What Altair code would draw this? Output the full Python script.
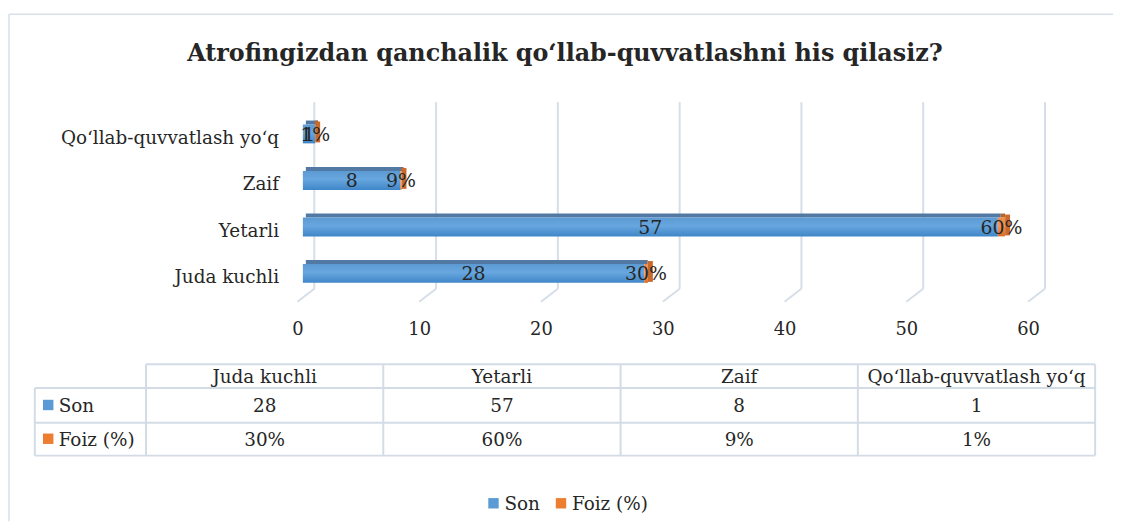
import altair as alt
import pandas as pd

# ---------------- data ----------------
categories = ["Juda kuchli", "Yetarli", "Zaif", "Qo‘llab-quvvatlash yo‘q"]
son = [28, 57, 8, 1]
foiz = [0.30, 0.60, 0.09, 0.01]
series = ["Son", "Foiz (%)"]
x_ticks = [0, 10, 20, 30, 40, 50, 60]
title_text = "Atrofingizdan qanchalik qo‘llab-quvvatlashni his qilasiz?"

# ---------------- style ----------------
FONT = "DejaVu Serif"
TXT = "#262626"
BLUE = "#5b9bd5"
ORANGE = "#ed7d31"
BLUE_TOP = "#5279a3"
ORANGE_TOP = "#b9622a"
GRID = "#d6dee8"
TBL = "#d3dce6"
FS = 18.5

W, H = 1113, 515


def X(px):
    return px - 8


def Y(py):
    return py - 8


df = pd.DataFrame({"cat": categories, "son": son, "foiz": foiz})
ticks_df = pd.DataFrame({"t": x_ticks})

order_top_down = categories[::-1]
y_bar = alt.Scale(type="point", domain=order_top_down, range=[Y(133), Y(273.5)], padding=0)
x_front = alt.Scale(domain=[0, 60], range=[X(305), X(1041.8)], nice=False)
x_back = alt.Scale(domain=[0, 60], range=[X(316.5), X(1052.5)], nice=False)
x_lab = alt.Scale(domain=[0, 60], range=[X(300), X(1036)], nice=False)
col_scale = alt.Scale(type="band", domain=categories, range=[X(147), X(1103)], paddingInner=0, paddingOuter=0)
row_scale = alt.Scale(type="band", domain=series, range=[Y(389), Y(457)], paddingInner=0, paddingOuter=0)
ser_color = alt.Scale(domain=series, range=[BLUE, ORANGE])

blue_grad = alt.LinearGradient(
    gradient="linear", x1=0, x2=0, y1=0, y2=1,
    stops=[alt.GradientStop(color="#5c9ad3", offset=0),
           alt.GradientStop(color="#67a6de", offset=0.45),
           alt.GradientStop(color="#3f86c8", offset=1)])
orange_grad = alt.LinearGradient(
    gradient="linear", x1=0, x2=0, y1=0, y2=1,
    stops=[alt.GradientStop(color="#ee8a45", offset=0),
           alt.GradientStop(color="#f39456", offset=0.45),
           alt.GradientStop(color="#d86c25", offset=1)])

base = alt.Chart(df).transform_calculate(
    total="datum.son + datum.foiz",
    son_mid="datum.son / 2",
    foiz_mid="datum.son + datum.foiz / 2",
)

# frame (left + top border of chart area)
frame_left = alt.Chart(ticks_df.head(1)).mark_rule(color="#d9dfe7", strokeWidth=1.5).encode(
    x=alt.value(X(9)), y=alt.value(Y(12.5)), y2=alt.value(H))
frame_top = alt.Chart(ticks_df.head(1)).mark_rule(color="#d9dfe7", strokeWidth=1.5).encode(
    x=alt.value(X(9)), x2=alt.value(W), y=alt.value(Y(12.5)))

title = alt.Chart(ticks_df.head(1)).mark_text(
    font=FONT, fontSize=24, fontWeight="bold", color=TXT, align="center", baseline="alphabetic"
).encode(x=alt.value(X(569)), y=alt.value(Y(60)), text=alt.value(title_text))

grid_v = alt.Chart(ticks_df).mark_rule(color=GRID, strokeWidth=2).encode(
    x=alt.X("t:Q", scale=x_back, axis=None), y=alt.value(Y(101)), y2=alt.value(Y(289)))
grid_f = alt.Chart(ticks_df).mark_rule(color=GRID, strokeWidth=2, x2Offset=-17).encode(
    x=alt.X("t:Q", scale=x_back, axis=None), x2="t:Q", y=alt.value(Y(289)), y2=alt.value(Y(302)))

yenc = alt.Y("cat:N", scale=y_bar, axis=None)

son_top = base.mark_bar(size=4, yOffset=-11.5, xOffset=3, color=BLUE_TOP).encode(
    y=yenc, x=alt.X("son:Q", scale=x_front, axis=None))
foiz_top = base.mark_bar(size=4, yOffset=-11.5, xOffset=3, color=ORANGE_TOP).encode(
    y=yenc, x=alt.X("son:Q", scale=x_front, axis=None), x2="total:Q")
side = base.mark_bar(size=21, yOffset=-2, x2Offset=5, color="#c9692c").encode(
    y=yenc, x=alt.X("total:Q", scale=x_front, axis=None), x2="total:Q")
son_bar = base.mark_bar(size=19, color=blue_grad).encode(
    y=yenc, x=alt.X("son:Q", scale=x_front, axis=None))
foiz_bar = base.mark_bar(size=19, color=orange_grad).encode(
    y=yenc, x=alt.X("son:Q", scale=x_front, axis=None), x2="total:Q")

son_lab = base.mark_text(font=FONT, fontSize=19, color=TXT, baseline="middle", dy=1).encode(
    y=yenc, x=alt.X("son_mid:Q", scale=x_front, axis=None), text=alt.Text("son:Q"))
foiz_lab = base.mark_text(font=FONT, fontSize=19, color=TXT, baseline="middle", dy=1).encode(
    y=yenc, x=alt.X("foiz_mid:Q", scale=x_front, axis=None), text=alt.Text("foiz:Q", format=".0%"))

cat_lab = base.mark_text(font=FONT, fontSize=FS, color=TXT, align="right", baseline="middle", dy=4).encode(
    y=yenc, x=alt.value(X(281)), text="cat:N")

tick_lab = alt.Chart(ticks_df).mark_text(font=FONT, fontSize=18, color=TXT, baseline="middle").encode(
    x=alt.X("t:Q", scale=x_lab, axis=None), y=alt.value(Y(330)), text="t:Q")

# ---------------- data table ----------------
lines = pd.DataFrame([
    # horizontal
    {"x": X(147), "x2": X(1103), "y": Y(365), "y2": Y(365)},
    {"x": X(35), "x2": X(1103), "y": Y(389), "y2": Y(389)},
    {"x": X(35), "x2": X(1103), "y": Y(424), "y2": Y(424)},
    {"x": X(35), "x2": X(1103), "y": Y(457), "y2": Y(457)},
    # vertical
    {"x": X(35), "x2": X(35), "y": Y(389), "y2": Y(457)},
    {"x": X(147), "x2": X(147), "y": Y(365), "y2": Y(457)},
    {"x": X(386), "x2": X(386), "y": Y(365), "y2": Y(457)},
    {"x": X(625), "x2": X(625), "y": Y(365), "y2": Y(457)},
    {"x": X(864), "x2": X(864), "y": Y(365), "y2": Y(457)},
    {"x": X(1103), "x2": X(1103), "y": Y(365), "y2": Y(457)},
])
tbl_lines = alt.Chart(lines).mark_rule(color=TBL, strokeWidth=2).encode(
    x=alt.X("x:Q", scale=None), x2="x2:Q", y=alt.Y("y:Q", scale=None), y2="y2:Q")

hdr = alt.Chart(df).mark_text(font=FONT, fontSize=FS, color=TXT, baseline="middle").encode(
    x=alt.X("cat:N", scale=col_scale, axis=None), y=alt.value(Y(377.5)), text="cat:N")

cells = pd.DataFrame(
    [{"cat": c, "ser": series[0], "lab": str(s)} for c, s in zip(categories, son)]
    + [{"cat": c, "ser": series[1], "lab": f"{round(f * 100)}%"} for c, f in zip(categories, foiz)]
)
cell_txt = alt.Chart(cells).mark_text(font=FONT, fontSize=FS, color=TXT, baseline="middle", dy=1).encode(
    x=alt.X("cat:N", scale=col_scale, axis=None),
    y=alt.Y("ser:N", scale=row_scale, axis=None), text="lab:N")

ser_df = pd.DataFrame({"ser": series})
row_key = alt.Chart(ser_df).mark_point(shape="square", filled=True, size=110, opacity=1).encode(
    x=alt.value(X(48.5)), y=alt.Y("ser:N", scale=row_scale, axis=None),
    color=alt.Color("ser:N", scale=ser_color, legend=None))
row_lab = alt.Chart(ser_df).mark_text(font=FONT, fontSize=FS, color=TXT, align="left", baseline="middle", dy=1).encode(
    x=alt.value(X(59)), y=alt.Y("ser:N", scale=row_scale, axis=None), text="ser:N")

# ---------------- legend ----------------
leg_x = alt.Scale(type="point", domain=series, range=[X(497), X(565)], padding=0)
leg_key = alt.Chart(ser_df).mark_point(shape="square", filled=True, size=110, opacity=1).encode(
    x=alt.X("ser:N", scale=leg_x, axis=None), y=alt.value(Y(505)),
    color=alt.Color("ser:N", scale=ser_color, legend=None))
leg_lab = alt.Chart(ser_df).mark_text(font=FONT, fontSize=FS, color=TXT, align="left", baseline="middle", dx=11, dy=1).encode(
    x=alt.X("ser:N", scale=leg_x, axis=None), y=alt.value(Y(505)), text="ser:N")

chart = alt.layer(
    frame_left, frame_top, title, grid_v, grid_f,
    son_top, foiz_top, side, son_bar, foiz_bar, son_lab, foiz_lab, cat_lab, tick_lab,
    tbl_lines, hdr, cell_txt, row_key, row_lab, leg_key, leg_lab,
).resolve_scale(
    x="independent", y="independent", color="independent"
).properties(
    width=W, height=H, autosize=alt.AutoSizeParams(type="none"), padding=0, background="white"
).configure_view(stroke=None)

chart.save("out.html", embed_options={"renderer": "svg", "actions": False})
